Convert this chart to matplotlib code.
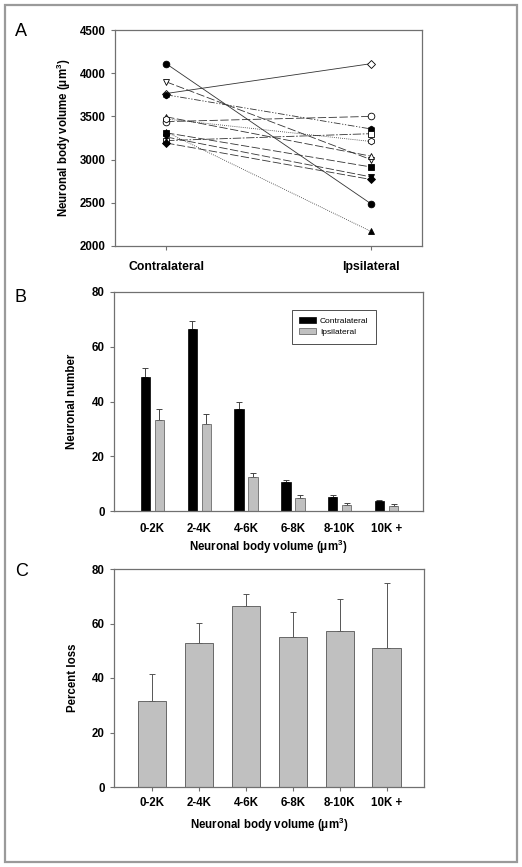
import matplotlib.pyplot as plt
import matplotlib.patches as mpatches
import numpy as np

plt.rcParams['font.family'] = ['Liberation Sans', 'DejaVu Sans']
plt.rcParams['mathtext.fontset'] = 'custom'
plt.rcParams['mathtext.rm'] = 'Liberation Sans'
plt.rcParams['mathtext.bf'] = 'Liberation Sans:bold'

# Panel A: paired neuronal body volumes (contralateral -> ipsilateral)
sides = ['Contralateral', 'Ipsilateral']
contra_vol = [3320, 4110, 3765, 3900, 3750, 3495, 3440, 3470, 3310, 3220, 3262, 3192]
ipsi_vol = [2170, 2490, 4110, 3000, 3355, 3040, 3500, 3210, 2915, 3300, 2800, 2770]
markers = ['^', 'o', 'D', 'v', 'h', '^', 'o', 'h', 's', 's', 'v', 'D']
filled = [True, True, False, False, True, False, False, False, True, False, True, True]
styles = [(0, (1, 1.5)), '-', '-', (0, (10, 3)), (0, (8, 2, 1.5, 2, 1.5, 2)), (0, (10, 3)),
          (0, (10, 3)), (0, (1, 1.5)), (0, (10, 3)), (0, (10, 2, 2, 2)), (0, (10, 3)), (0, (10, 3))]

# Panel B: neuronal number by body volume bin
bins = ['0-2K', '2-4K', '4-6K', '6-8K', '8-10K', '10K +']
contra_num = [49.0, 66.6, 37.2, 10.6, 5.1, 3.8]
contra_err = [3.4, 2.8, 2.8, 0.9, 0.6, 0.3]
ipsi_num = [33.4, 31.6, 12.6, 4.6, 2.2, 1.8]
ipsi_err = [4.0, 4.0, 1.1, 1.1, 0.6, 0.6]

# Panel C: percent loss by bin
loss = [31.7, 53.0, 66.4, 55.2, 57.4, 51.1]
loss_err = [9.9, 7.3, 4.4, 9.2, 11.6, 23.9]

W, H = 522, 867
fig = plt.figure(figsize=(W / 100, H / 100), dpi=100)

# outer frame
fig.patches.append(mpatches.Rectangle((5 / W, 5 / H), 512 / W, 857 / H, transform=fig.transFigure,
                                      fill=False, edgecolor='#9a9a9a', linewidth=1.6))

spine_col = '#707070'
tick_kw = dict(direction='out', length=3, width=0.8, colors='black', labelsize=8.3)


def style_axes(ax):
    for s in ax.spines.values():
        s.set_color(spine_col)
        s.set_linewidth(0.9)
    ax.tick_params(**tick_kw)
    ax.tick_params(color=spine_col)
    for lbl in ax.get_xticklabels() + ax.get_yticklabels():
        lbl.set_fontweight('bold')


vol_label = 'Neuronal body volume (μm$^\\mathbf{3}$)'
lab_fs = 8.3

# ---- A ----
axA = fig.add_axes([115 / W, 1 - 246 / H, 307 / W, 216 / H])
xpos = [0, 1]
for i in range(len(contra_vol)):
    fc = 'black' if filled[i] else 'white'
    ms = 4.2 if markers[i] in ('D',) else 4.8
    axA.plot(xpos, [contra_vol[i], ipsi_vol[i]], linestyle=styles[i], color='#333333',
             linewidth=0.6, marker=markers[i], markersize=ms, markerfacecolor=fc,
             markeredgecolor='black', markeredgewidth=0.6)
axA.set_xlim(-0.25, 1.25)
axA.set_ylim(2000, 4500)
axA.set_xticks(xpos)
axA.set_xticklabels(sides)
axA.set_yticks([2000, 2500, 3000, 3500, 4000, 4500])
style_axes(axA)
for lbl in axA.get_xticklabels():
    lbl.set_fontsize(8.8)
axA.tick_params(axis='x', pad=8)
axA.set_ylabel(vol_label, fontsize=lab_fs, fontweight='bold', labelpad=5)

# ---- B ----
axB = fig.add_axes([114 / W, 1 - 511 / H, 309 / W, 219 / H])
x = np.arange(len(bins))
bw = 0.2
axB.bar(x - 0.15, contra_num, bw, color='black', edgecolor='black', linewidth=0.5,
        label='Contralateral', zorder=2)
axB.bar(x + 0.15, ipsi_num, bw, color='#c0c0c0', edgecolor='#555555', linewidth=0.5,
        label='Ipsilateral', zorder=2)
axB.errorbar(x - 0.15, contra_num, yerr=[np.zeros(len(x)), contra_err], fmt='none',
             ecolor='#444444', elinewidth=0.7, capsize=2.5, capthick=0.7, zorder=1)
axB.errorbar(x + 0.15, ipsi_num, yerr=[np.zeros(len(x)), ipsi_err], fmt='none',
             ecolor='#444444', elinewidth=0.7, capsize=2.5, capthick=0.7, zorder=1)
axB.set_xlim(-0.82, 5.78)
axB.set_ylim(0, 80)
axB.set_xticks(x)
axB.set_xticklabels(bins)
axB.set_yticks([0, 20, 40, 60, 80])
style_axes(axB)
axB.tick_params(axis='x', length=0, pad=9)
axB.set_ylabel('Neuronal number', fontsize=lab_fs, fontweight='bold', labelpad=10)
axB.set_xlabel(vol_label, fontsize=lab_fs, fontweight='bold', labelpad=2)
leg = axB.legend(loc='upper left', bbox_to_anchor=(0.575, 0.92), fontsize=6, frameon=True,
                 fancybox=False, edgecolor='black', handlelength=2.0, handleheight=0.8,
                 handletextpad=0.5, borderpad=0.9, labelspacing=0.35, borderaxespad=0)
leg.get_frame().set_linewidth(0.6)

# ---- C ----
axC = fig.add_axes([114 / W, 1 - 787 / H, 310 / W, 218 / H])
axC.bar(x, loss, 0.6, color='#c0c0c0', edgecolor='#555555', linewidth=0.6, zorder=2)
axC.errorbar(x, loss, yerr=[np.zeros(len(x)), loss_err], fmt='none', ecolor='#555555',
             elinewidth=0.7, capsize=2, capthick=0.7, zorder=1)
axC.set_xlim(-0.82, 5.8)
axC.set_ylim(0, 80)
axC.set_xticks(x)
axC.set_xticklabels(bins)
axC.set_yticks([0, 20, 40, 60, 80])
style_axes(axC)
axC.tick_params(axis='x', length=3, pad=4)
axC.set_ylabel('Percent loss', fontsize=lab_fs, fontweight='bold', labelpad=9)
axC.set_xlabel(vol_label, fontsize=lab_fs, fontweight='bold', labelpad=5)

# panel letters
for letter, yy in [('A', 32), ('B', 298), ('C', 571)]:
    fig.text(15 / W, 1 - yy / H, letter, fontsize=13, va='center', ha='left')

fig.savefig('out.png', dpi=100)
